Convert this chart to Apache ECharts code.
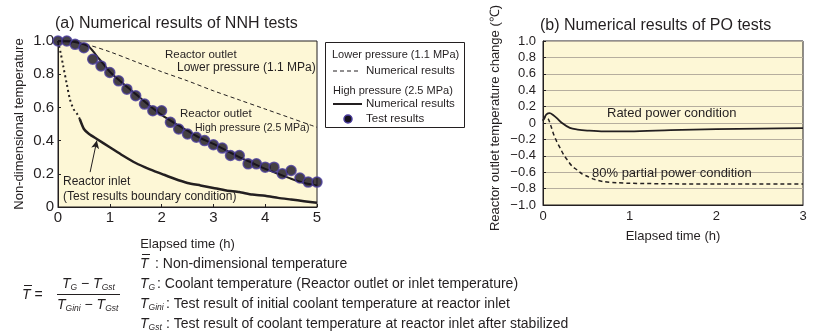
<!DOCTYPE html>
<html>
<head>
<meta charset="utf-8">
<script src="https://cdn.jsdelivr.net/npm/echarts@6/dist/echarts.min.js"></script>
<style>
  html, body { margin: 0; padding: 0; background: #fff; }
  #main { width: 813px; height: 336px; }
</style>
</head>
<body>
<div id="main"></div>
<script>
// (a) NNH tests, x = elapsed time (h), y = non-dimensional temperature
var lowPressNum = [[0, 1.0], [0.3, 0.995], [0.6, 0.975], [1, 0.935], [1.5, 0.875], [2, 0.815], [2.5, 0.76], [3, 0.70], [3.5, 0.645], [4, 0.59], [4.5, 0.535], [5, 0.48]];
var highPressNum = [[0, 1.0], [0.3, 0.995], [0.5, 0.98], [0.6, 0.965], [0.8, 0.89], [1, 0.815], [1.25, 0.745], [1.5, 0.68], [1.75, 0.615], [2, 0.555], [2.25, 0.505], [2.5, 0.46], [2.75, 0.415], [3, 0.38], [3.25, 0.34], [3.5, 0.30], [3.75, 0.265], [4, 0.23], [4.25, 0.20], [4.5, 0.17], [4.75, 0.145], [5, 0.13]];
var highPressTest = [[0, 1.0], [0.17, 1.0], [0.33, 0.98], [0.5, 0.96], [0.67, 0.89], [0.83, 0.85], [1, 0.81], [1.17, 0.76], [1.33, 0.71], [1.5, 0.67], [1.67, 0.62], [1.83, 0.58], [2, 0.58], [2.17, 0.51], [2.33, 0.47], [2.5, 0.44], [2.67, 0.42], [2.83, 0.40], [3, 0.375], [3.17, 0.355], [3.33, 0.31], [3.5, 0.31], [3.67, 0.26], [3.83, 0.26], [4, 0.24], [4.17, 0.24], [4.33, 0.20], [4.5, 0.22], [4.67, 0.175], [4.83, 0.15], [5, 0.15]];
var inletEarly = [[0, 1.0], [0.05, 0.93], [0.1, 0.85], [0.17, 0.74], [0.23, 0.65], [0.3, 0.59], [0.37, 0.56], [0.42, 0.53]];
var inletTest = [[0.42, 0.53], [0.5, 0.47], [0.6, 0.44], [0.75, 0.41], [1, 0.36], [1.25, 0.31], [1.5, 0.265], [1.75, 0.23], [2, 0.20], [2.25, 0.17], [2.5, 0.145], [2.75, 0.13], [3, 0.115], [3.25, 0.10], [3.5, 0.09], [3.75, 0.075], [4, 0.068], [4.25, 0.055], [4.5, 0.045], [4.75, 0.035], [5, 0.025]];
var inletArrow = [[0.62, 0.21], [0.75, 0.40]];

// (b) PO tests, x = elapsed time (h), y = outlet temperature change
var ratedPower = [[0, 0.03], [0.015, 0.06], [0.04, 0.105], [0.077, 0.12], [0.12, 0.095], [0.16, 0.06], [0.22, 0.0], [0.31, -0.06], [0.4, -0.08], [0.51, -0.092], [0.7, -0.103], [1, -0.103], [1.47, -0.088], [2, -0.075], [2.5, -0.068], [3, -0.063]];
var partialPower = [[0, 0.03], [0.03, 0.07], [0.06, 0.05], [0.09, -0.03], [0.12, -0.13], [0.16, -0.23], [0.2, -0.31], [0.24, -0.39], [0.28, -0.45], [0.33, -0.52], [0.39, -0.57], [0.45, -0.62], [0.51, -0.65], [0.6, -0.69], [0.7, -0.715], [0.85, -0.728], [1, -0.735], [1.5, -0.742], [2, -0.745], [3, -0.745]];

var xTicksA = [0, 1, 2, 3, 4, 5];
var yTicksA = [0, 0.2, 0.4, 0.6, 0.8, 1.0];
var xTicksB = [0, 1, 2, 3];
var yTicksB = [-1.0, -0.8, -0.6, -0.4, -0.2, 0, 0.2, 0.4, 0.6, 0.8, 1.0];

var FONT = 'Liberation Sans, Arial, Helvetica, sans-serif';
var INK = '#231f20';
var PLOT_BG = '#fdf7d6';

function fmtY(v) {
  if (v === 0) return '0';
  return (v < 0 ? '\u2212' : '') + Math.abs(v).toFixed(1);
}

function txt(x, y, s, size, extra) {
  var st = { x: x, y: y, text: s, fill: INK, font: (size || 12) + 'px ' + FONT, verticalAlign: 'middle' };
  if (extra) for (var k in extra) st[k] = extra[k];
  return { type: 'text', z: 100, style: st };
}

var chart = echarts.init(document.getElementById('main'), null, { renderer: 'canvas' });

function ax(o, labelSize) {
  var r = {
    type: 'value',
    axisLine: { show: true, onZero: false, lineStyle: { color: INK, width: 1 } },
    axisTick: { show: true, inside: true, length: 3, lineStyle: { color: INK } },
    axisLabel: { color: INK, fontSize: labelSize, fontFamily: FONT },
    nameTextStyle: { color: INK, fontSize: 13, fontFamily: FONT },
    nameLocation: 'middle'
  };
  for (var k in o) r[k] = o[k];
  return r;
}

// rich text pieces for the formula and the symbol list
var richBase = {
  i: { fontSize: 14, fontStyle: 'italic', fontFamily: FONT, color: INK, lineHeight: 17 },
  s: { fontSize: 8.5, fontStyle: 'italic', fontFamily: FONT, color: INK, lineHeight: 12, verticalAlign: 'bottom' },
  n: { fontSize: 14, fontFamily: FONT, color: INK, lineHeight: 17 }
};

function rtxt(x, y, s) {
  return { type: 'text', z: 100, style: { x: x, y: y, text: s, rich: richBase, verticalAlign: 'middle', fill: INK, font: '14px ' + FONT } };
}

var option = {
  animation: false,
  backgroundColor: '#fff',
  grid: [
    { left: 58, top: 41, width: 259, height: 166, show: true, backgroundColor: PLOT_BG, borderColor: INK, borderWidth: 1, outerBoundsMode: 'none' },
    { left: 543, top: 41, width: 260, height: 164, show: true, backgroundColor: PLOT_BG, borderColor: INK, borderWidth: 1, outerBoundsMode: 'none' }
  ],
  xAxis: [
    ax({ gridIndex: 0, min: xTicksA[0], max: xTicksA[xTicksA.length - 1], interval: 1, splitLine: { show: false },
      name: 'Elapsed time (h)', nameGap: 31,
      axisLabel: { color: INK, fontSize: 15, fontFamily: FONT, margin: 3 } }, 15),
    ax({ gridIndex: 1, min: xTicksB[0], max: xTicksB[xTicksB.length - 1], interval: 1, splitLine: { show: false },
      axisTick: { show: false },
      name: 'Elapsed time (h)', nameGap: 25,
      axisLabel: { color: INK, fontSize: 13, fontFamily: FONT, margin: 5 } }, 13)
  ],
  yAxis: [
    ax({ gridIndex: 0, min: yTicksA[0], max: yTicksA[yTicksA.length - 1], interval: 0.2, splitLine: { show: false },
      name: 'Non-dimensional temperature', nameGap: 32,
      axisLabel: { color: INK, fontSize: 15, fontFamily: FONT, margin: 4, formatter: fmtY } }, 15),
    ax({ gridIndex: 1, min: yTicksB[0], max: yTicksB[yTicksB.length - 1], interval: 0.2,
      splitLine: { show: true, lineStyle: { color: '#b6ae9e', width: 1 } },
      axisLabel: { color: INK, fontSize: 13, fontFamily: FONT, margin: 7, formatter: fmtY } }, 13)
  ],
  series: [
    { type: 'line', xAxisIndex: 0, yAxisIndex: 0, data: lowPressNum, showSymbol: false, smooth: 0.3,
      lineStyle: { color: INK, width: 1, type: [4, 3] }, z: 3 },
    { type: 'line', xAxisIndex: 0, yAxisIndex: 0, data: highPressNum, showSymbol: false, smooth: 0.3,
      lineStyle: { color: INK, width: 2 }, z: 3 },
    { type: 'line', xAxisIndex: 0, yAxisIndex: 0, data: inletEarly, showSymbol: false, smooth: 0.3,
      lineStyle: { color: INK, width: 2, type: [2, 3] }, z: 3 },
    { type: 'line', xAxisIndex: 0, yAxisIndex: 0, data: inletTest, showSymbol: false, smooth: 0.2,
      lineStyle: { color: INK, width: 2.5 }, z: 3,
      markLine: { silent: true, symbol: ['none', 'arrow'], symbolSize: [6, 8], label: { show: false },
        lineStyle: { color: INK, width: 1, type: 'solid' },
        data: [[{ coord: inletArrow[0] }, { coord: inletArrow[1] }]] } },
    { type: 'scatter', xAxisIndex: 0, yAxisIndex: 0, data: highPressTest, symbol: 'circle', symbolSize: 10,
      itemStyle: { color: '#16121e', borderColor: '#4b3d9e', borderWidth: 1.5 }, z: 5 },
    { type: 'line', xAxisIndex: 1, yAxisIndex: 1, data: ratedPower, showSymbol: false, smooth: 0.3,
      lineStyle: { color: INK, width: 1.8 }, z: 3 },
    { type: 'line', xAxisIndex: 1, yAxisIndex: 1, data: partialPower, showSymbol: false, smooth: 0.3,
      lineStyle: { color: INK, width: 1.5, type: [4, 3] }, z: 3 }
  ],
  graphic: [
    // titles
    txt(55, 24, '(a) Numerical results of NNH tests', 16),
    txt(540, 26, '(b) Numerical results of PO tests', 16),
    // right y-axis name, set by hand so it can sit a little above the plot centre like the original
    { type: 'text', z: 100, x: 495, y: 118, rotation: Math.PI / 2,
      style: { x: 0, y: 0, text: 'Reactor outlet temperature change (\u2103)', fill: INK, font: '13px ' + FONT, align: 'center', verticalAlign: 'middle' } },
    // annotations (a)
    txt(165, 55, 'Reactor outlet', 11.5),
    txt(177, 68, 'Lower pressure (1.1 MPa)', 12),
    txt(180, 114, 'Reactor outlet', 11.5),
    txt(195, 128, 'High pressure (2.5 MPa)', 10.5),
    txt(63, 182, 'Reactor inlet', 12),
    txt(63, 197, '(Test results boundary condition)', 12),
    // annotations (b)
    txt(607, 113, 'Rated power condition', 13),
    txt(592, 173, '80% partial power condition', 13),
    // legend box
    { type: 'rect', z: 90, shape: { x: 325.5, y: 42.5, width: 139, height: 85 }, style: { fill: '#fff', stroke: INK, lineWidth: 1 } },
    txt(332, 55, 'Lower pressure (1.1 MPa)', 11),
    { type: 'line', z: 100, shape: { x1: 333, y1: 71, x2: 360, y2: 71 }, style: { stroke: INK, lineWidth: 1, lineDash: [4, 3] } },
    txt(366, 71, 'Numerical results', 11.5),
    txt(333, 91, 'High pressure (2.5 MPa)', 11),
    { type: 'line', z: 100, shape: { x1: 333, y1: 104, x2: 362, y2: 104 }, style: { stroke: INK, lineWidth: 2 } },
    txt(366, 104, 'Numerical results', 11.5),
    { type: 'circle', z: 100, shape: { cx: 348, cy: 119, r: 4 }, style: { fill: '#16121e', stroke: '#4b3d9e', lineWidth: 1.5 } },
    txt(366, 119, 'Test results', 11.5),
    // formula
    rtxt(22, 295, '{i|T} {n|=}'),
    { type: 'line', z: 100, shape: { x1: 24, y1: 285.5, x2: 32, y2: 285.5 }, style: { stroke: INK, lineWidth: 1 } },
    rtxt(62, 284, '{i|T}{s|G} {n|\u2212} {i|T}{s|Gst}'),
    { type: 'line', z: 100, shape: { x1: 57, y1: 294.5, x2: 120, y2: 294.5 }, style: { stroke: INK, lineWidth: 1 } },
    rtxt(57, 305, '{i|T}{s|Gini} {n|\u2212} {i|T}{s|Gst}'),
    // symbol list
    rtxt(140, 264, '{i|T}'),
    { type: 'line', z: 100, shape: { x1: 142, y1: 254.5, x2: 150, y2: 254.5 }, style: { stroke: INK, lineWidth: 1 } },
    txt(155, 264, ': Non-dimensional temperature', 14),
    rtxt(140, 284, '{i|T}{s|G}'),
    txt(157, 284, ': Coolant temperature (Reactor outlet or inlet temperature)', 14),
    rtxt(140, 304, '{i|T}{s|Gini}'),
    txt(166, 304, ': Test result of initial coolant temperature at reactor inlet', 14),
    rtxt(140, 324, '{i|T}{s|Gst}'),
    txt(166, 324, ': Test result of coolant temperature at reactor inlet after stabilized', 14)
  ]
};

chart.setOption(option);
</script>
</body>
</html>
